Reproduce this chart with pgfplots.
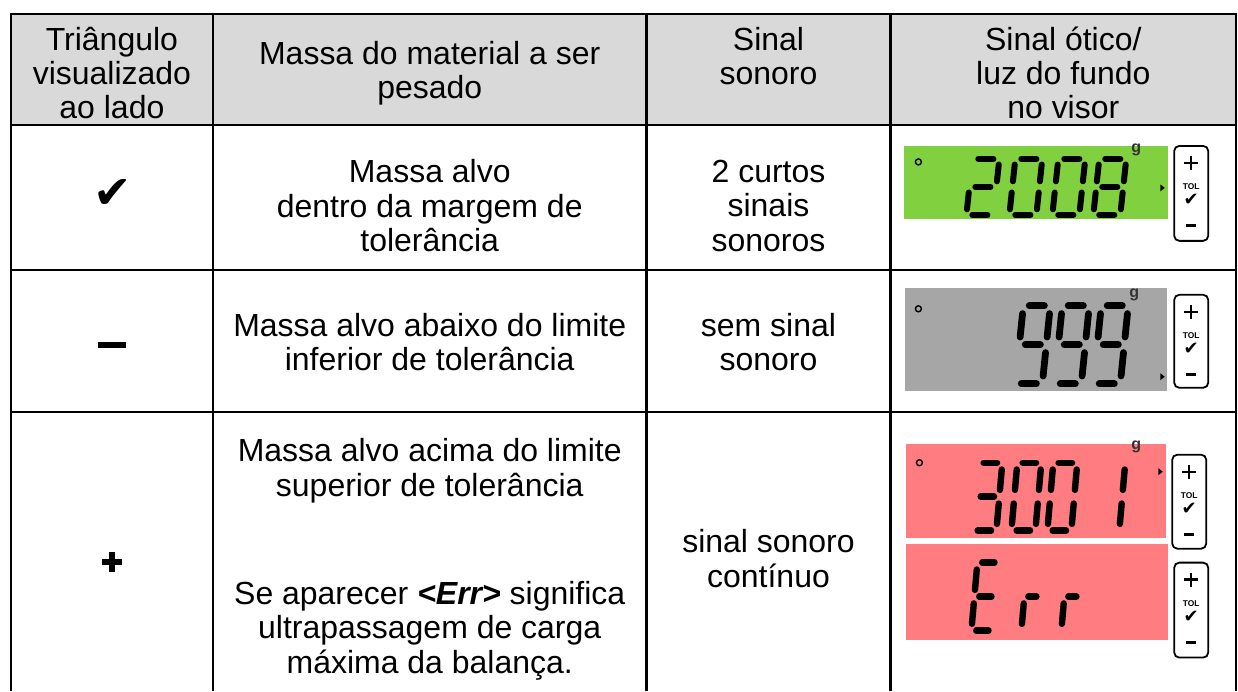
\documentclass[border=0pt]{standalone}
\usepackage{pgfplots}
\pgfplotsset{compat=1.18}
\usepackage{fontspec}
\setmainfont{Liberation Sans}
\newfontfamily\djv{DejaVu Sans}
\definecolor{hdr}{RGB}{217,217,217}
\definecolor{lcdgreen}{RGB}{128,208,64}
\definecolor{lcdgray}{RGB}{166,166,166}
\definecolor{lcdred}{RGB}{255,124,128}
\newcommand\txt{\fontsize{16}{17.2}\selectfont}
% seven-segment geometry: u1,v1,u2,v2 (u across, v down, fractions of the cell)
\def\segptA{0.22,0,0.78,0}
\def\segptB{1,0.1,1,0.4}
\def\segptC{1,0.6,1,0.9}
\def\segptD{0.22,1,0.78,1}
\def\segptE{0,0.6,0,0.9}
\def\segptF{0,0.1,0,0.4}
\def\segptG{0.22,0.5,0.78,0.5}
\def\segptR{0.18,0.5,0.55,0.5}
\def\drawseg#1,#2,#3,#4\relax{%
  \pgfmathsetmacro\xa{\Xo+#1*\Wd+(1-#2)*\Kk}%
  \pgfmathsetmacro\ya{\Yo+#2*\Ht}%
  \pgfmathsetmacro\xb{\Xo+#3*\Wd+(1-#4)*\Kk}%
  \pgfmathsetmacro\yb{\Yo+#4*\Ht}%
  \draw[line width=\LW, line cap=round] (axis cs:\xa,\ya) -- (axis cs:\xb,\yb);}
\newcommand\lcddigit[7]{\def\Xo{#1}\def\Yo{#2}\def\Wd{#3}\def\Ht{#4}\def\Kk{#5}\def\LW{#6}%
  \foreach \s in {#7}{\edef\pts{\csname segpt\s\endcsname}\expandafter\drawseg\pts\relax}}
\newcommand\lcdbutton[3]{% x1 y1 y2
  \pgfmathsetmacro\bx{#1+17}%
  \pgfmathsetmacro\bxl{#1+34}%
  \pgfmathsetmacro\bp{#2+17}\pgfmathsetmacro\bpa{#2+10}\pgfmathsetmacro\bpb{#2+24}%
  \pgfmathsetmacro\bxa{#1+10}\pgfmathsetmacro\bxb{#1+24}%
  \pgfmathsetmacro\bt{#2+41}\pgfmathsetmacro\bc{#2+54}\pgfmathsetmacro\bm{#2+80}%
  \pgfmathsetmacro\bma{#1+12}\pgfmathsetmacro\bmb{#1+22}%
  \draw[line width=0.9pt, rounded corners=2.5pt] (axis cs:#1,#2) rectangle (axis cs:\bxl,#3);
  \draw[line width=1.2pt] (axis cs:\bxa,\bp) -- (axis cs:\bxb,\bp) (axis cs:\bx,\bpa) -- (axis cs:\bx,\bpb);
  \draw[line width=1.4pt] (axis cs:\bma,\bm) -- (axis cs:\bmb,\bm);
  \node[inner sep=0pt, font=\bfseries\fontsize{4.2}{4.2}\selectfont] at (axis cs:\bx,\bt) {TOL};
  \node[inner sep=0pt, font=\djv\fontsize{9}{9}\selectfont] at (axis cs:\bx,\bc) {✔};}
\newcommand\lcdmarks[6]{% ring x,y ; g x,y ; triangle x,y
  \draw[line width=0.7pt] (axis cs:#1,#2) circle[radius=1.5pt];
  \node[inner sep=0pt, font=\bfseries\fontsize{8}{8}\selectfont, text=black!80] at (axis cs:#3,#4) {g};
  \pgfmathsetmacro\tra{#6-3.5}\pgfmathsetmacro\trb{#6+3.5}\pgfmathsetmacro\trx{#5+4.5}%
  \fill (axis cs:#5,\tra) -- (axis cs:\trx,#6) -- (axis cs:#5,\trb) -- cycle;}
\begin{document}
\begin{tikzpicture}
\begin{axis}[width=619pt, height=345.5pt, scale only axis,
  xmin=0, xmax=1238, ymin=0, ymax=691, y dir=reverse,
  hide axis, clip=false]
% frame of the whole picture (keeps the bounding box)
\addplot[draw=none] coordinates {(0,0) (1238,691)};
% header background
\addplot[fill=hdr, draw=none] coordinates {(11,14) (1237,14) (1237,125) (11,125)} -- cycle;
% LCD backgrounds
\addplot[fill=lcdgreen, draw=none] coordinates {(905,146) (1169,146) (1169,219) (905,219)} -- cycle;
\addplot[fill=lcdgray, draw=none] coordinates {(906,288) (1168,288) (1168,391) (906,391)} -- cycle;
\addplot[fill=lcdred, draw=none] coordinates {(907,444) (1167,444) (1167,538) (907,538)} -- cycle;
\addplot[fill=lcdred, draw=none] coordinates {(907,544) (1169,544) (1169,640) (907,640)} -- cycle;
% table rules
\addplot[black, line width=1.2pt] coordinates {(10.4,14) (1237.6,14)};
\addplot[black, line width=1.2pt] coordinates {(11,125) (1237,125)};
\addplot[black, line width=1.2pt] coordinates {(11,270) (1237,270)};
\addplot[black, line width=1.2pt] coordinates {(11,412) (1237,412)};
\addplot[black, line width=1.2pt] coordinates {(11,14) (11,691)};
\addplot[black, line width=1.2pt] coordinates {(213,14) (213,691)};
\addplot[black, line width=1.2pt] coordinates {(647,14) (647,691)};
\addplot[black, line width=1.2pt] coordinates {(891,14) (891,691)};
\addplot[black, line width=1.2pt] coordinates {(1237,14) (1237,691)};
% first-column symbols
\addplot[black, line width=3.2pt] coordinates {(98,345) (126,345)};
\addplot[black, line width=2.9pt] coordinates {(102,562) (122,562)};
\addplot[black, line width=2.9pt] coordinates {(112,552) (112,572)};
\node[font=\djv\fontsize{23}{23}\selectfont] at (axis cs:113,194) {✔};
% header texts
\node[align=center, font=\txt] at (axis cs:112,73) {Triângulo\\visualizado\\ao lado};
\node[align=center, font=\txt] at (axis cs:430,73) {Massa do material a ser\\pesado};
\node[align=center, font=\txt] at (axis cs:769,56) {Sinal\\sonoro};
\node[align=center, font=\txt] at (axis cs:1064,73) {Sinal ótico/\\luz do fundo\\no visor};
% body texts
\node[align=center, font=\txt] at (axis cs:430,206) {Massa alvo\\dentro da margem de\\tolerância};
\node[align=center, font=\txt] at (axis cs:769,206) {2 curtos\\sinais\\sonoros};
\node[align=center, font=\txt] at (axis cs:430,342) {Massa alvo abaixo do limite\\inferior de tolerância};
\node[align=center, font=\txt] at (axis cs:769,342) {sem sinal\\sonoro};
\node[align=center, font=\txt] at (axis cs:430,471) {Massa alvo acima do limite\\superior de tolerância};
\node[align=center, font=\txt] at (axis cs:430,631) {Se aparecer \textbf{\textit{<Err>}} significa\\ultrapassagem de carga\\máxima da balança.};
\node[align=center, font=\txt] at (axis cs:769,559) {sinal sonoro\\contínuo};
% LCD details
\pgfplotsextra{%
  % green: 2008
  \lcddigit{967}{159}{27}{56}{6}{3pt}{A,B,G,E,D}
  \lcddigit{1010}{159}{27}{56}{6}{3pt}{A,B,C,D,E,F}
  \lcddigit{1053}{159}{27}{56}{6}{3pt}{A,B,C,D,E,F}
  \lcddigit{1094}{159}{27}{56}{6}{3pt}{A,B,C,D,E,F,G}
  \lcdmarks{919}{162}{1137}{150}{1161}{188}
  \lcdbutton{1175}{146}{241}
  % gray: 999
  \lcddigit{1016}{306}{27}{78}{8}{3.4pt}{A,B,C,D,F,G}
  \lcddigit{1055}{306}{27}{78}{8}{3.4pt}{A,B,C,D,F,G}
  \lcddigit{1094}{306}{27}{78}{8}{3.4pt}{A,B,C,D,F,G}
  \lcdmarks{919}{309}{1135}{295}{1161}{377}
  \lcdbutton{1175}{295}{388}
  % red: 3001
  \lcddigit{973}{463}{24}{68}{6}{3.2pt}{A,B,G,C,D}
  \lcddigit{1012}{463}{24}{68}{6}{3.2pt}{A,B,C,D,E,F}
  \lcddigit{1048}{463}{24}{68}{6}{3.2pt}{A,B,C,D,E,F}
  \lcddigit{1096}{463}{24}{68}{6}{3.2pt}{B,C}
  \lcdmarks{920}{463}{1137}{447}{1159}{472}
  \lcdbutton{1173}{455}{549}
  % red: Err
  \lcddigit{972}{563}{22}{68}{6}{3.2pt}{A,D,E,F,G}
  \lcddigit{1022}{563}{22}{68}{6}{3.2pt}{E,R}
  \lcddigit{1062}{563}{22}{68}{6}{3.2pt}{E,R}
  \lcdbutton{1175}{563}{658}
}
\end{axis}
\end{tikzpicture}
\end{document}
